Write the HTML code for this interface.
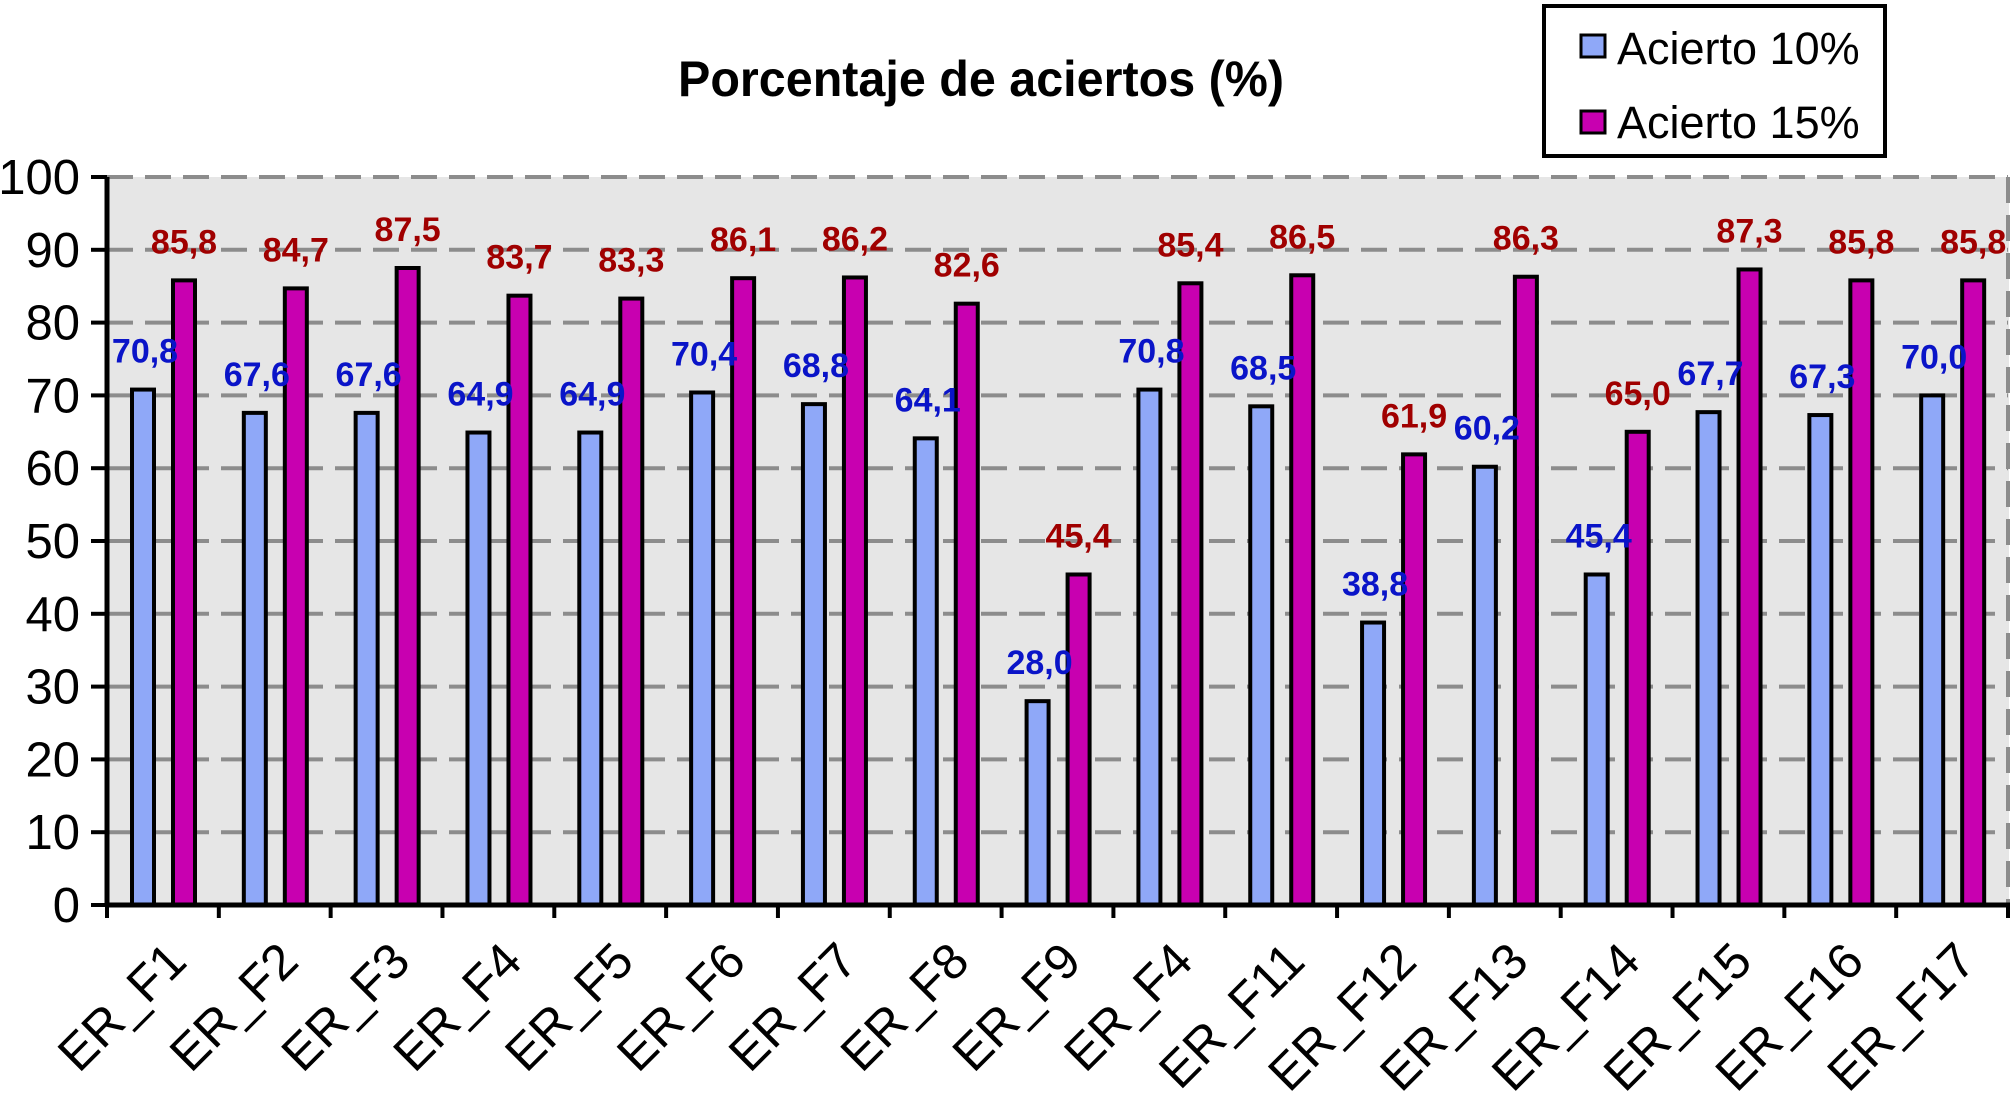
<!DOCTYPE html>
<html><head><meta charset="utf-8"><style>
html,body{margin:0;padding:0;background:#fff;}
svg{display:block;font-family:"Liberation Sans",Arial,sans-serif;}
</style></head><body>
<svg id="chart" width="2014" height="1111" viewBox="0 0 2014 1111">
<text x="981" y="96" text-anchor="middle" font-size="50" font-weight="bold" textLength="606" lengthAdjust="spacingAndGlyphs">Porcentaje de aciertos (%)</text>
<rect x="107" y="177" width="1902" height="728" fill="#e6e6e6"/>
<g id="grid"></g>
<line x1="2008" y1="177" x2="2008" y2="905" stroke="#8c8c8c" stroke-width="4" stroke-dasharray="26,12"/>
<g id="bars"></g>
<g id="axes"></g>
<g>
<rect x="1544" y="6" width="341" height="150" fill="#fff" stroke="#000" stroke-width="4"/>
<rect x="1581" y="35" width="24" height="22" fill="#8fa8f8" stroke="#000" stroke-width="3"/>
<text x="1617" y="64" font-size="45">Acierto 10%</text>
<rect x="1581" y="111" width="24" height="22" fill="#c800b0" stroke="#000" stroke-width="3"/>
<text x="1617" y="138" font-size="45">Acierto 15%</text>
</g>
</svg>
<script>
const categories = ["ER_F1","ER_F2","ER_F3","ER_F4","ER_F5","ER_F6","ER_F7","ER_F8","ER_F9","ER_F4","ER_F11","ER_F12","ER_F13","ER_F14","ER_F15","ER_F16","ER_F17"];
const acierto10 = [70.8,67.6,67.6,64.9,64.9,70.4,68.8,64.1,28.0,70.8,68.5,38.8,60.2,45.4,67.7,67.3,70.0];
const acierto15 = [85.8,84.7,87.5,83.7,83.3,86.1,86.2,82.6,45.4,85.4,86.5,61.9,86.3,65.0,87.3,85.8,85.8];
const yTicks = [0,10,20,30,40,50,60,70,80,90,100];

const NS = "http://www.w3.org/2000/svg";
const X0 = 107, X1 = 2008, Y0 = 905, Y1 = 177;
const bandW = (X1 - X0) / categories.length;
function yScale(v){ return Y0 - (v/100)*(Y0-Y1); }
function xBand(i){ return X0 + i*bandW; }
function mk(tag, attrs, parent){
  const e = document.createElementNS(NS, tag);
  for (const k in attrs) e.setAttribute(k, attrs[k]);
  parent.appendChild(e); return e;
}
const grid = document.getElementById('grid');
const bars = document.getElementById('bars');
const axes = document.getElementById('axes');

yTicks.forEach(t => {
  const y = yScale(t);
  if (t > 0) {
    const g = mk('line', {x1:X0, x2:X1, y1:y, y2:y, stroke:'#8c8c8c', 'stroke-width':4, 'stroke-dasharray':'26,12'}, grid);
    
    
  }
  const tk = mk('line', {x1:91, x2:X0, y1:y, y2:y, stroke:'#000', 'stroke-width':4}, axes);
  
  
  const lb = mk('text', {x:80, y:y+17, 'text-anchor':'end', 'font-size':49}, axes);
  lb.textContent = t;
  
  
});

const W = 22;
categories.forEach((c, i) => {
  const bx = xBand(i);
  const b1x = bx + 25, b2x = bx + 66;
  const v1 = acierto10[i], v2 = acierto15[i];
  const r1 = mk('rect', {x:b1x, y:yScale(v1), width:W, height:Y0-yScale(v1), fill:'#8fa8f8', stroke:'#000', 'stroke-width':4}, bars);
  
  
  const r2 = mk('rect', {x:b2x, y:yScale(v2), width:W, height:Y0-yScale(v2), fill:'#c800b0', stroke:'#000', 'stroke-width':4}, bars);
  
  
  const l1 = mk('text', {x:b1x+W/2+2, y:yScale(v1)-27, 'text-anchor':'middle', 'font-size':34, 'font-weight':'bold', fill:'#0a14c8'}, bars);
  l1.textContent = v1.toFixed(1).replace('.', ',');
  
  
  const l2 = mk('text', {x:b2x+W/2, y:yScale(v2)-27, 'text-anchor':'middle', 'font-size':34, 'font-weight':'bold', fill:'#a00000'}, bars);
  l2.textContent = v2.toFixed(1).replace('.', ',');
  
  
  const cx = bx + bandW/2 + 26, cy = 964;
  const xl = mk('text', {x:cx, y:cy, 'text-anchor':'end', 'font-size':50, transform:'rotate(-45 '+cx+' '+cy+')'}, axes);
  xl.textContent = c;
  
  
});
for (let i = 0; i <= categories.length; i++) {
  const x = xBand(i);
  const tk = mk('line', {x1:x, x2:x, y1:Y0, y2:918, stroke:'#000', 'stroke-width':4}, axes);
  
  
}
const ya = mk('line', {x1:X0, x2:X0, y1:Y1, y2:Y0+2, stroke:'#000', 'stroke-width':5}, axes);


const xa = mk('line', {x1:X0-2, x2:X1+2, y1:Y0, y2:Y0, stroke:'#000', 'stroke-width':5}, axes);


</script>
</body></html>
